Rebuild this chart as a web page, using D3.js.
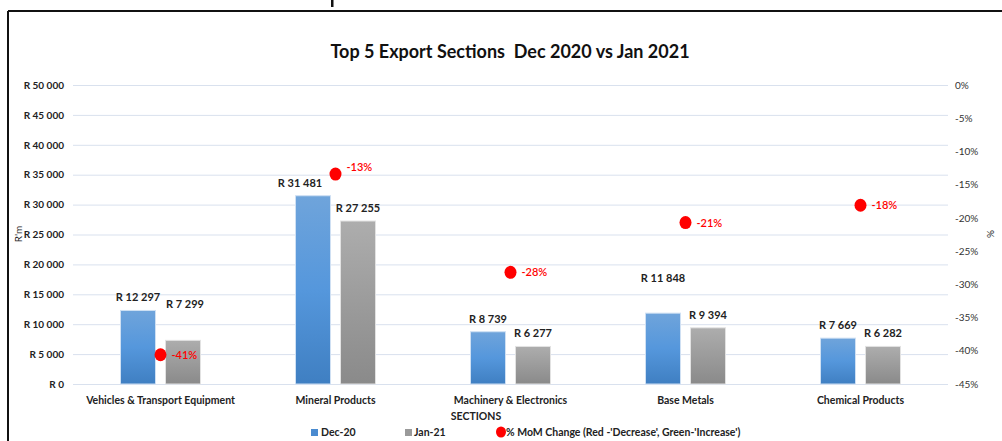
<!DOCTYPE html>
<html><head><meta charset="utf-8">
<script src="https://cdn.jsdelivr.net/npm/d3@7"></script>
<style>
html,body{margin:0;padding:0;background:#fff;}
svg{display:block;font-family:Lato,"Open Sans",sans-serif;}
</style></head>
<body>
<svg id="chart" width="1002" height="441"></svg>
<script>
const categories = ["Vehicles & Transport Equipment","Mineral Products","Machinery & Electronics","Base Metals","Chemical Products"];
const dec20 = [12297, 31481, 8739, 11848, 7669];
const jan21 = [7299, 27255, 6277, 9394, 6282];
const momChange = [-40.6, -13.4, -28.2, -20.7, -18.1];
const momLabels = ["-41%","-13%","-28%","-21%","-18%"];
const leftTicks = [0,5000,10000,15000,20000,25000,30000,35000,40000,45000,50000];
const rightTicks = [0,-5,-10,-15,-20,-25,-30,-35,-40,-45];
const seriesNames = ["Dec-20","Jan-21","% MoM Change (Red -'Decrease', Green-'Increase')"];

const svg = d3.select("#chart");
const W = 1002, H = 441;
const plot = {left:73, right:948, top:85, bottom:384};

const fmtR = v => "R " + d3.format(",")(v).replace(/,/g," ");

// frame
svg.append("line").attr("x1",8).attr("x2",W).attr("y1",11).attr("y2",11).attr("stroke","#111").attr("stroke-width",2);
svg.append("line").attr("x1",8).attr("x2",8).attr("y1",11).attr("y2",H).attr("stroke","#111").attr("stroke-width",2);
// cut-off heading fragment (descender stroke only)
svg.append("rect").attr("x",331).attr("y",0).attr("width",2.5).attr("height",7).attr("fill","#111");

const defs = svg.append("defs");
const g1 = defs.append("linearGradient").attr("id","gBlue").attr("x1",0).attr("y1",0).attr("x2",0).attr("y2",1);
g1.append("stop").attr("offset","0%").attr("stop-color","#6fa4db");
g1.append("stop").attr("offset","50%").attr("stop-color","#5597dc");
g1.append("stop").attr("offset","100%").attr("stop-color","#3f7fc2");
const g2 = defs.append("linearGradient").attr("id","gGray").attr("x1",0).attr("y1",0).attr("x2",0).attr("y2",1);
g2.append("stop").attr("offset","0%").attr("stop-color","#adadad");
g2.append("stop").attr("offset","100%").attr("stop-color","#8a8a8a");

const x = d3.scaleBand().domain(categories).range([plot.left, plot.right]);
const y = d3.scaleLinear().domain([0,50000]).range([plot.bottom, plot.top]);
const y2 = d3.scaleLinear().domain([-45,0]).range([plot.bottom, plot.top]);

// title
svg.append("text").attr("x",510).attr("y",58).attr("text-anchor","middle")
  .attr("font-size",18).attr("font-weight","bold").attr("fill","#111")
  .style("white-space","pre")
  .text("Top 5 Export Sections  Dec 2020 vs Jan 2021");

// gridlines
svg.append("g").selectAll("line").data(leftTicks).join("line")
  .attr("x1",plot.left).attr("x2",plot.right)
  .attr("y1",d=>y(d)+0.5).attr("y2",d=>y(d)+0.5)
  .attr("stroke","#d9e1ee").attr("stroke-width",1);

// left axis
const la = svg.append("g").attr("transform",`translate(${plot.left-9},0)`)
  .call(d3.axisLeft(y).tickValues(leftTicks).tickFormat(fmtR).tickSize(0).tickPadding(0));
la.select(".domain").remove();
la.selectAll("text").attr("font-size",10).attr("font-weight","bold").attr("fill","#222").attr("font-family","Lato");

// right axis
const ra = svg.append("g").attr("transform",`translate(${plot.right+7},0)`)
  .call(d3.axisRight(y2).tickValues(rightTicks).tickFormat(d=>d+"%").tickSize(0).tickPadding(0));
ra.select(".domain").remove();
ra.selectAll("text").attr("font-size",10).attr("fill","#333").attr("font-family","Lato");

// axis titles
svg.append("text").attr("transform","translate(22,234) rotate(-90)").attr("text-anchor","middle")
  .attr("font-size",10).attr("fill","#222").text("R'm");
svg.append("text").attr("transform","translate(987,234) rotate(90)").attr("text-anchor","middle")
  .attr("font-size",10).attr("fill","#222").text("%");

// x axis labels
const xa = svg.append("g").attr("transform",`translate(0,${plot.bottom+13})`)
  .call(d3.axisBottom(x).tickSize(0).tickPadding(0));
xa.select(".domain").remove();
xa.selectAll("text").attr("font-size",10.5).attr("font-weight","bold").attr("fill","#222").attr("font-family","Lato");
svg.append("text").attr("x",476).attr("y",420).attr("text-anchor","middle")
  .attr("font-size",10.5).attr("font-weight","bold").attr("fill","#222").text("SECTIONS");

// bars
const bw = 35, gap = 5;
const cx = d => x(d) + x.bandwidth()/2;
svg.append("g").selectAll("rect").data(categories).join("rect")
  .attr("x",(d)=>cx(d)-gap-bw).attr("width",bw)
  .attr("y",(d,i)=>y(dec20[i])).attr("height",(d,i)=>y(0)-y(dec20[i]))
  .attr("fill","url(#gBlue)").attr("stroke","#cfe0f3").attr("stroke-width",1);
svg.append("g").selectAll("rect").data(categories).join("rect")
  .attr("x",(d)=>cx(d)+gap).attr("width",bw)
  .attr("y",(d,i)=>y(jan21[i])).attr("height",(d,i)=>y(0)-y(jan21[i]))
  .attr("fill","url(#gGray)").attr("stroke","#e2e2e2").attr("stroke-width",1);

// bar labels (with Excel-like manual nudges)
const decNudge = {1:{dx:-13,dy:0},3:{dx:0,dy:-22}};
const janNudge = {0:{dx:2,dy:-23}};
svg.append("g").selectAll("text").data(categories).join("text")
  .attr("x",(d,i)=>cx(d)-gap-bw/2+((decNudge[i]||{}).dx||0))
  .attr("y",(d,i)=>y(dec20[i])-9+((decNudge[i]||{}).dy||0))
  .attr("text-anchor","middle").attr("font-size",11).attr("font-weight","bold").attr("fill","#222")
  .text((d,i)=>fmtR(dec20[i]));
svg.append("g").selectAll("text").data(categories).join("text")
  .attr("x",(d,i)=>cx(d)+gap+bw/2+((janNudge[i]||{}).dx||0))
  .attr("y",(d,i)=>y(jan21[i])-9+((janNudge[i]||{}).dy||0))
  .attr("text-anchor","middle").attr("font-size",11).attr("font-weight","bold").attr("fill","#222")
  .text((d,i)=>fmtR(jan21[i]));

// MoM dots
svg.append("g").selectAll("ellipse").data(categories).join("ellipse")
  .attr("cx",d=>cx(d)).attr("cy",(d,i)=>y2(momChange[i]))
  .attr("rx",6).attr("ry",6.5).attr("fill","#ff0000");
const pNudge = {1:-7};
svg.append("g").selectAll("text").data(categories).join("text")
  .attr("x",d=>cx(d)+11).attr("y",(d,i)=>y2(momChange[i])+4+(pNudge[i]||0))
  .attr("font-size",11).attr("font-weight","600").attr("fill","#ff0000")
  .text((d,i)=>momLabels[i]);

// legend
const lg = svg.append("g");
lg.append("rect").attr("x",311).attr("y",429).attr("width",7).attr("height",7).attr("fill","#4a8bd0");
lg.append("text").attr("x",321).attr("y",436).attr("font-size",10.5).attr("font-weight","bold").attr("fill","#222").text(seriesNames[0]);
lg.append("rect").attr("x",405).attr("y",429).attr("width",7).attr("height",7).attr("fill","#9a9a9a");
lg.append("text").attr("x",414).attr("y",436).attr("font-size",10.5).attr("font-weight","bold").attr("fill","#222").text(seriesNames[1]);
lg.append("ellipse").attr("cx",501).attr("cy",432).attr("rx",5).attr("ry",5.5).attr("fill","#ff0000");
lg.append("text").attr("x",506).attr("y",436).attr("font-size",10.5).attr("font-weight","bold").attr("fill","#222").text(seriesNames[2]);
</script>
</body></html>
